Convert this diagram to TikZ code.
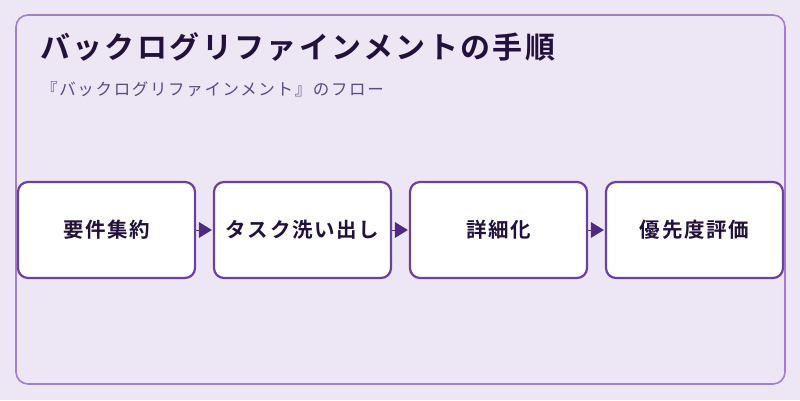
\documentclass[tikz,border=0pt]{standalone}
\usepackage{fontspec}
\setmainfont{Noto Sans CJK JP}
\newfontfamily\titlefont{Noto Sans CJK JP Bold}[LetterSpace=8]
\newfontfamily\subfont{Noto Sans CJK JP}[LetterSpace=10]
\newfontfamily\labelfont{Noto Sans CJK JP Bold}[LetterSpace=8]
\usetikzlibrary{arrows.meta}
\definecolor{bgc}{HTML}{EDE6F5}
\definecolor{framec}{HTML}{A07ED0}
\definecolor{boxc}{HTML}{6A40A0}
\definecolor{titlec}{HTML}{22123A}
\definecolor{subc}{HTML}{5A4A82}
\definecolor{arrc}{HTML}{4E2A80}
\tikzset{
  stepbox/.style={draw=boxc, line width=2.2pt, fill=white, rounded corners=10pt,
    minimum width=177pt, minimum height=96pt, inner sep=0pt,
    font=\labelfont\fontsize{20.5}{22}\selectfont, text=titlec},
  flow/.style={draw=arrc, line width=0pt, -{Triangle[length=13pt,width=16pt]}, shorten >=1pt}
}
\begin{document}
\begin{tikzpicture}[x=1pt,y=-1pt]
\useasboundingbox (0,0) rectangle (800,400);
\fill[bgc] (0,0) rectangle (800,400);
\draw[framec, line width=1.6pt, rounded corners=12pt] (16,15) rectangle (785,384);
\node[anchor=west, font=\titlefont\fontsize{30}{34}\selectfont, text=titlec, inner sep=0pt] (title) at (40,47) {バックログリファインメントの手順};
\node[anchor=west, font=\subfont\fontsize{16.5}{18}\selectfont, text=subc, inner sep=0pt] (sub) at (41,89) {『バックログリファインメント』のフロー};
\node[stepbox] (a) at (106.5,230) {要件集約};
\node[stepbox] (b) at (302.5,230) {タスク洗い出し};
\node[stepbox] (c) at (498.5,230) {詳細化};
\node[stepbox] (d) at (694.5,230) {優先度評価};
\draw[flow] (a.east) -- (b.west);
\draw[flow] (b.east) -- (c.west);
\draw[flow] (c.east) -- (d.west);
\end{tikzpicture}
\end{document}
